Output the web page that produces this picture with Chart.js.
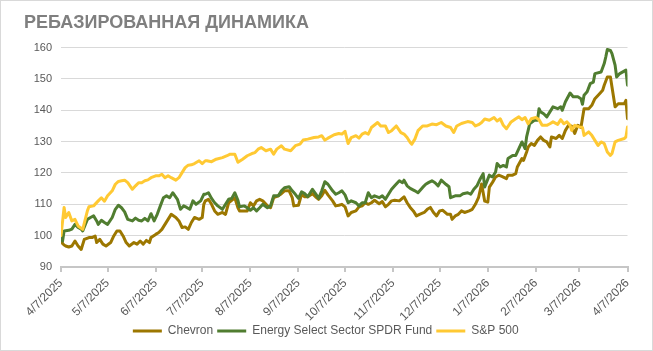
<!DOCTYPE html>
<html><head><meta charset="utf-8">
<script src="https://cdn.jsdelivr.net/npm/chart.js@4.4.1/dist/chart.umd.min.js"></script>
<style>
html,body{margin:0;padding:0;background:#fff;}
#wrap{position:relative;width:653px;height:351px;box-sizing:border-box;border:1px solid #d9d9d9;background:#fff;}
canvas{display:block;}
</style>
</head><body><div id="wrap"><canvas id="c" width="651" height="349"></canvas></div>
<script>
// ---- data (x = days since 4/7/2025, y = rebased value) ----
const titleText = 'РЕБАЗИРОВАННАЯ ДИНАМИКА';
const seriesNames = ['Chevron', 'Energy Select Sector SPDR Fund', 'S&P 500'];
const tickLabels = ['4/7/2025','5/7/2025','6/7/2025','7/7/2025','8/7/2025','9/7/2025','10/7/2025','11/7/2025','12/7/2025','1/7/2026','2/7/2026','3/7/2026','4/7/2026'];

const chevron = [[0,100],[1,97.5],[2,97],[3,96.7],[5,96.4],[7,96.7],[9,98.3],[11,96.7],[13,95.6],[15,98.8],[18,99.4],[20,99.4],[22,99.9],[23,97.8],[25,98.8],[27,97.3],[29,96.7],[32,97.8],[34,99.9],[36,101.5],[38,101.5],[40,99.9],[42,97.8],[44,96.7],[47,97.8],[49,97.3],[51,98.3],[53,97.3],[55,98.5],[57,97.8],[58,99.4],[61,100.4],[63,101],[65,102],[67,103.6],[69,105.2],[71,106.8],[74,105.8],[76,104.7],[78,102.6],[80,102.8],[82,102],[84,104.2],[86,105.8],[89,105.2],[91,105.8],[92,110],[93,111.1],[95,111.6],[97,110],[99,107.9],[101,106.8],[104,107.4],[106,106.8],[108,110.5],[110,111.3],[112,112.1],[114,108.9],[115,107.9],[118,107.9],[120,107.9],[122,110.5],[124,109.5],[126,111.1],[128,111.6],[130,111.1],[133,109.5],[135,108.9],[137,112.1],[140,112.7],[142,113.4],[144,114.3],[147,114.3],[149,112.1],[150,109.5],[153,109.7],[155,113.2],[157,112.4],[159,112.4],[162,113.4],[164,112.4],[166,111.6],[168,112.7],[170,114.5],[172,113],[175,111.1],[177,109.5],[179,109.7],[181,110],[183,109.2],[185,106.3],[187,107.4],[190,107.9],[192,109.2],[194,109.5],[196,110.5],[198,110],[200,110.5],[202,111.3],[205,110.2],[207,110.9],[209,109.2],[211,110],[213,111.1],[215,111.3],[218,111.1],[221,112.4],[223,110.5],[225,109],[227,107.9],[229,106.3],[231,106.8],[234,107.4],[236,108.4],[238,109],[240,107.4],[242,106.3],[244,107.9],[246,108.1],[249,106.8],[251,106.8],[252,105.2],[254,106.3],[256,106.8],[258,107.9],[260,107.4],[263,107.9],[265,108.4],[267,110],[269,112.1],[271,116.5],[273,111],[275,110.7],[276,115.5],[278,117],[280,118.7],[282,119.3],[284,118.9],[287,118.2],[288,119.3],[291,119.3],[293,119.8],[294,121.9],[297,124.6],[298,124],[300,126.7],[301,128.3],[303,129.4],[305,128.8],[307,130.4],[309,131.5],[311,130.4],[313,129.9],[315,128.3],[316,131.5],[319,131],[321,132],[323,131],[325,133.6],[327,135.2],[329,134.9],[331,132.6],[333,135.2],[335,134.5],[337,140.5],[340,140.5],[342,141.6],[344,143.7],[347,145.3],[349,146.4],[350,148],[352,150.6],[354,150.6],[355,147.4],[357,141.1],[359,142.1],[363,142.1],[364,143.2],[365,137.3]];

const energy = [[0,100],[1,98.3],[2,101.5],[5,101.7],[7,102.1],[9,103.6],[11,102.6],[13,102.1],[14,101.5],[17,105.2],[19,105.8],[21,106.3],[23,104.7],[24,103.6],[26,104.9],[28,104.2],[30,103.6],[33,105.8],[35,108.4],[37,109.7],[39,108.9],[41,107.6],[43,105.2],[46,104.7],[48,105.6],[50,104.9],[52,104.7],[54,105.5],[56,104.7],[58,107],[60,104.7],[62,106.8],[64,109.5],[66,112.1],[68,112.7],[70,112.1],[72,113.7],[75,111.6],[77,108.4],[79,109.5],[81,109],[83,108.4],[85,111.1],[87,110],[90,111.1],[92,113.2],[93,113.2],[95,113.7],[97,111.9],[99,110.5],[101,109.5],[104,108.4],[106,110],[108,111.6],[110,111.9],[112,113.7],[114,111.3],[115,109.2],[118,109.5],[120,108.9],[122,108.1],[124,108.9],[126,107.9],[128,108.9],[130,110],[133,108.9],[135,109.5],[137,112.7],[140,112.7],[142,114.3],[144,115.3],[147,115.6],[149,114.3],[151,113.2],[153,111.9],[155,114],[157,113.4],[159,112.4],[162,114.8],[164,113.4],[166,111.9],[168,114.3],[170,117.2],[172,116.4],[175,114.3],[177,113.2],[179,113.7],[181,114.3],[183,113],[185,110.5],[187,111.1],[190,110.5],[192,109.5],[194,110.5],[196,110.5],[198,113.7],[200,112.1],[202,112.7],[205,112.1],[207,112.7],[209,111.6],[211,113.2],[213,114.8],[215,115.9],[218,117.5],[220,116.9],[221,117.7],[223,115.9],[225,115.1],[228,114.3],[230,113.7],[233,115.4],[235,116.4],[237,117],[239,117.5],[241,116.9],[243,115.9],[245,117.7],[248,116.4],[250,115.6],[251,112.1],[254,112.7],[257,112.7],[259,113.4],[262,113.7],[264,113.2],[266,114.8],[268,115.9],[270,118],[272,119.8],[273,115.5],[276,119.3],[278,118.7],[280,120.3],[281,123],[283,121.9],[285,122.4],[287,121.9],[288,124.6],[291,125.6],[293,125.6],[295,127.8],[297,129.9],[299,127.8],[300,131.5],[301,133.6],[302,135.7],[305,136.8],[307,136.8],[308,140.5],[309,139.5],[311,138.9],[313,137.9],[315,139.5],[317,141.1],[320,140.5],[322,141.1],[323,140],[325,142.7],[328,145.5],[330,144.3],[333,144.3],[335,143.7],[336,141.9],[337,144.8],[339,145.9],[341,148.5],[343,149],[344,151.7],[348,152.2],[350,154.9],[351,157],[352,159.4],[354,159.1],[355,158.1],[357,154.4],[358,150.6],[360,151.7],[364,152.8],[365,148]];

const sp500 = [[0,100],[2,109],[3,105.8],[5,107.4],[7,104.7],[9,105.2],[11,103.1],[14,102],[17,107.9],[18,109.2],[21,109.5],[24,111.1],[26,112.1],[28,111],[30,112.7],[33,114.3],[35,116.4],[37,117.3],[39,117.5],[41,117.7],[43,116.9],[46,114.8],[48,115.9],[50,116.9],[52,116.9],[54,117.5],[56,117.8],[58,118.5],[61,119.1],[63,119.1],[65,119.6],[67,118.5],[69,119.1],[71,118.5],[74,117.7],[76,118.5],[78,120.1],[80,121.7],[82,122.5],[84,122.6],[86,123],[89,123.9],[91,123],[93,123.9],[94,123.9],[97,123.6],[100,124.4],[104,124.9],[107,125.5],[109,126],[112,126],[114,123.4],[117,124.4],[120,125.5],[123,126.2],[125,126.5],[127,127.6],[129,128.1],[132,127.1],[135,127.6],[137,126],[139,127.6],[142,128.7],[144,127.6],[148,127.1],[151,128.7],[154,129.2],[156,130.5],[159,130.8],[163,131.3],[166,131.5],[168,131.9],[170,130.5],[172,131.1],[176,132.2],[179,132.6],[181,132.4],[183,133.3],[185,129.4],[187,131.3],[190,131.9],[192,131.1],[194,132.4],[196,132.9],[198,132.4],[200,134.5],[204,136.1],[206,135],[209,135],[211,132.9],[213,133.5],[216,135],[219,132.9],[221,132.4],[223,131.3],[225,129.7],[226,129.2],[228,130.8],[230,133.5],[233,135],[236,135],[239,135.6],[242,135.4],[245,136.1],[248,135],[251,134.5],[253,132.9],[255,135],[258,135.8],[262,136.4],[265,136.1],[267,135],[269,135.4],[271,136.1],[273,137.2],[276,136.8],[279,137.7],[281,136.6],[283,137.3],[285,135.2],[287,134.1],[290,136.3],[293,137.3],[295,137.9],[297,137],[299,137.7],[301,135.7],[303,137.3],[306,137.7],[308,137],[310,135.2],[313,135.2],[315,135.7],[317,136.3],[320,135.5],[322,137],[324,135.7],[326,136.3],[328,135.2],[329,133.6],[331,135.2],[334,134.7],[336,134.5],[337,132],[340,133.1],[342,132],[344,130.4],[346,128.8],[348,129.9],[350,129.4],[352,126.7],[354,125.6],[355,126.2],[357,129.9],[359,130.4],[363,131],[364,131.5],[365,134.7]];

const yMin = 90, yMax = 160, yStep = 10;

// ---- helpers ----
function dayOffset(label){
  const [m,d,y] = label.split('/').map(Number);
  return Math.round((Date.UTC(y,m-1,d) - Date.UTC(2025,3,7)) / 86400000);
}
const tickDays = tickLabels.map(dayOffset);
const labelByDay = {};
tickDays.forEach((d,i)=>{ labelByDay[d] = tickLabels[i]; });
const toPts = arr => arr.map(p => ({x:p[0], y:p[1]}));

Chart.defaults.font.family = "'Liberation Sans', Arial, sans-serif";
Chart.defaults.color = '#595959';

const colors = ['#9C7700', '#507D30', '#FFC933'];
const seriesData = [chevron, energy, sp500];

new Chart(document.getElementById('c'), {
  type: 'line',
  data: {
    datasets: seriesNames.map((name,i)=>({
      label: name,
      data: toPts(seriesData[i]),
      borderColor: colors[i],
      backgroundColor: colors[i],
      borderWidth: 3,
      pointRadius: 0,
      tension: 0,
      fill: false,
      borderJoinStyle: 'round',
      borderCapStyle: 'round',
      order: 3 - i
    }))
  },
  options: {
    responsive: false,
    animation: false,
    layout: { padding: { left: 23, right: 24.5, top: 0, bottom: 3 } },
    plugins: {
      tooltip: { enabled: false },
      title: {
        display: true,
        text: titleText,
        align: 'start',
        color: '#7f7f7f',
        font: { size: 18, weight: 'bold' },
        padding: { top: 11, bottom: 14 }
      },
      legend: {
        position: 'bottom',
        labels: {
          boxWidth: 29,
          boxHeight: 3,
          padding: 4,
          color: '#595959',
          font: { size: 12 },
          sort: (a,b) => a.datasetIndex - b.datasetIndex,
          generateLabels: (chart) => {
            const items = Chart.defaults.plugins.legend.labels.generateLabels(chart);
            items.forEach(it => { it.lineWidth = 0; it.fillStyle = it.strokeStyle; });
            return items;
          }
        }
      }
    },
    scales: {
      x: {
        type: 'linear',
        min: 0,
        max: tickDays[tickDays.length-1],
        afterBuildTicks: (s) => { s.ticks = tickDays.map(v => ({value: v})); },
        afterFit: (s) => { s.height = 54; },
        ticks: {
          autoSkip: false,
          minRotation: 45,
          maxRotation: 45,
          padding: 4,
          color: '#595959',
          font: { size: 12 },
          callback: (v) => labelByDay[v] || ''
        },
        grid: { drawOnChartArea: false, drawTicks: true, tickLength: 5, color: '#c6c6c6', lineWidth: 2 },
        border: { display: true, color: '#c6c6c6', width: 2 }
      },
      y: {
        min: yMin,
        max: yMax,
        afterFit: (s) => { s.width = 37; },
        ticks: { stepSize: yStep, padding: 9, color: '#595959', font: { size: 11 } },
        grid: { color: '#d9d9d9', drawTicks: false },
        border: { display: false }
      }
    }
  }
});
</script></body></html>
